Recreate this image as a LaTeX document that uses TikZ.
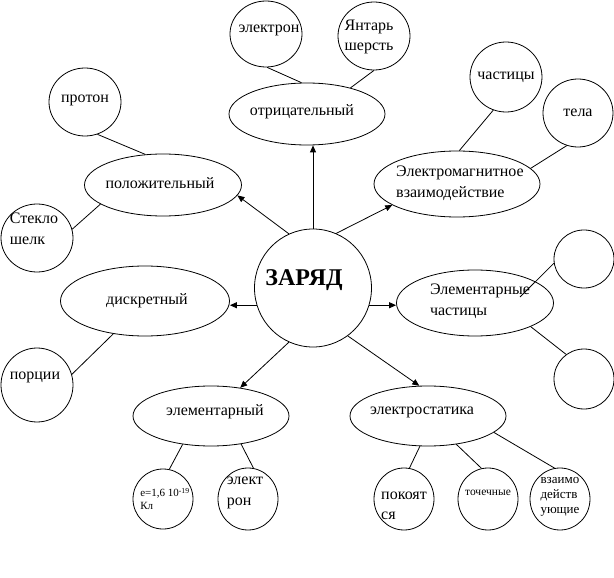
\documentclass[tikz,border=0pt]{standalone}
\usepackage{fontspec}
\setmainfont{Liberation Serif}
\usetikzlibrary{arrows.meta,shapes.geometric}
\begin{document}
\begin{tikzpicture}[x=1pt,y=-1pt,
  every node/.style={font=\fontsize{16}{20.5}\selectfont},
  shp/.style={ellipse,draw,line width=0.8pt,inner sep=0pt},
  lab/.style={align=left,inner sep=0pt},
  con/.style={line width=0.8pt},
  arr/.style={line width=0.8pt,-{Triangle[length=7pt,width=6pt]}}]
\useasboundingbox (0,0) rectangle (614,578);

% centre
\node[shp,minimum width=117pt,minimum height=118pt,
  label={[lab,font=\fontsize{24}{28}\selectfont\bfseries,xshift=-9pt,yshift=8pt]center:ЗАРЯД}] (zar) at (313,288) {};

% top
\node[shp,minimum width=156pt,minimum height=62pt,label={[lab,xshift=-5pt,yshift=2pt]center:отрицательный}] (otr) at (307,114) {};
\node[shp,minimum width=72pt,minimum height=66pt,label={[lab,xshift=3pt,yshift=4pt]center:электрон}] (el1) at (266,34) {};
\node[shp,minimum width=72pt,minimum height=68pt,label={[lab,xshift=-5pt,yshift=-1pt]center:Янтарь\\шерсть}] (yan) at (374,36) {};

% upper left
\node[shp,minimum width=157pt,minimum height=62pt,label={[lab,xshift=-3pt,yshift=2pt]center:положительный}] (pol) at (163,185) {};
\node[shp,minimum width=72pt,minimum height=68pt,label={[lab,yshift=2pt]center:протон}] (prot) at (85,102) {};
\node[shp,minimum width=72pt,minimum height=68pt,label={[lab,xshift=-3pt,yshift=9pt]center:Стекло\\шелк}] (stek) at (37,238) {};

% upper right
\node[shp,minimum width=166pt,minimum height=66pt,label={[lab,xshift=3pt,yshift=1pt]center:Электромагнитное\\взаимодействие}] (em) at (457,184) {};
\node[shp,minimum width=72pt,minimum height=70pt,label={[lab]center:частицы}] (chast) at (506,77) {};
\node[shp,minimum width=70pt,minimum height=68pt,label={[lab]center:тела}] (tela) at (578,113) {};

% left
\node[shp,minimum width=169pt,minimum height=70pt,label={[lab,xshift=2pt]center:дискретный}] (disk) at (145,301) {};
\node[shp,minimum width=72pt,minimum height=74pt,label={[lab,xshift=-2pt,yshift=8pt]center:порции}] (porc) at (37,385) {};

% right
\node[shp,minimum width=157pt,minimum height=66pt,label={[lab,xshift=5pt,yshift=2pt]center:Элементарные\\частицы}] (elch) at (475,303) {};
\node[shp,minimum width=60pt,minimum height=58pt] (e1) at (584,259) {};
\node[shp,minimum width=60pt,minimum height=60pt] (e2) at (584,379) {};

% bottom
\node[shp,minimum width=156pt,minimum height=60pt,label={[lab,xshift=4pt,yshift=4pt]center:элементарный}] (elem) at (211,416) {};
\node[shp,minimum width=156pt,minimum height=60pt,label={[lab,xshift=-6pt,yshift=4pt]center:электростатика}] (estat) at (428,416) {};
\node[shp,minimum width=60pt,minimum height=60pt,label={[lab,font=\fontsize{11}{13}\selectfont,xshift=2pt]center:e=1,6 10\textsuperscript{-19}\\Кл}] (ek) at (163,499) {};
\node[shp,minimum width=60pt,minimum height=62pt,label={[lab,xshift=-3pt,yshift=6pt]center:элект\\рон}] (el2) at (248,499) {};
\node[shp,minimum width=60pt,minimum height=62pt,label={[lab,yshift=-7pt]center:покоят\\ся}] (pok) at (404,499) {};
\node[shp,minimum width=60pt,minimum height=62pt,label={[lab,font=\fontsize{11.5}{13}\selectfont,yshift=6pt]center:точечные}] (toch) at (488,499) {};
\node[shp,minimum width=60pt,minimum height=62pt,label={[lab,font=\fontsize{13}{15}\selectfont,yshift=2pt]center:взаимо\\действ\\ующие}] (vz) at (560,499) {};

% arrows from centre
\draw[arr] (zar.north) -- (zar.north |- otr.south);
\draw[arr] (zar.114) -- (pol.-8);
\draw[arr] (zar.67) -- (em.198);
\draw[arr] (zar.197) -- (zar.197 -| disk.east);
\draw[arr] (zar.-17) -- (zar.-17 -| elch.west);
\draw[arr] (zar.246) -- (elem.44);
\draw[arr] (zar.-54) -- (estat.106);

% plain connectors
\draw[con] (otr.100) -- (el1.-88);
\draw[con] (otr.31) -- (yan.-90);
\draw[con] (pol.120) -- (prot.-69);
\draw[con] (pol.197) -- (stek.14);
\draw[con] (em.86) -- (chast.-111);
\draw[con] (em.12) -- (tela.-109);
\draw[con] (disk.226) -- (porc.17);
\coordinate (elchA) at (520,297);
\draw[con] (e1.188) -- (elchA);
\draw[con] (elch.-23) -- (e2.126);
\draw[con] (elem.-135) -- (ek.78);
\draw[con] (elem.-43) -- (el2.80);
\draw[con] (estat.-105) -- (pok.80);
\draw[con] (estat.-45) -- (toch.102);
\draw[con] (estat.-14) -- (vz.100);
\end{tikzpicture}
\end{document}
